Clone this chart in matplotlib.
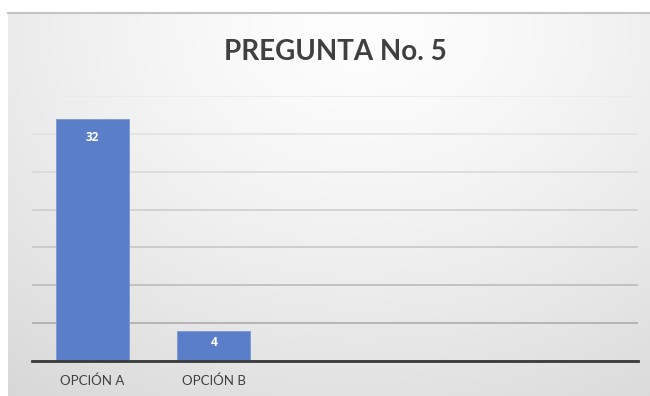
import numpy as np
import matplotlib
matplotlib.use("Agg")
import matplotlib.pyplot as plt

categories = ["OPCIÓN A", "OPCIÓN B", "", "", ""]
values = [32, 4, None, None, None]
title = "PREGUNTA No. 5"
yticks = [0, 5, 10, 15, 20, 25, 30, 35]

W, H = 650, 396
FONT = "Lato"
fig = plt.figure(figsize=(W / 100, H / 100), dpi=100)
fig.patch.set_facecolor("white")

# background panel with radial gradient
bg = fig.add_axes([8 / W, 0, (W - 8) / W, (H - 13) / H], zorder=0)
ny, nx = 200, 340
yy, xx = np.mgrid[0:ny, 0:nx]
cx, cy = nx * 0.55, ny * 0.02
r = np.sqrt(((xx - cx) / nx) ** 2 + ((yy - cy) / ny * 0.75) ** 2)
g = np.clip(0.995 - 0.17 * r ** 1.4, 0.84, 1.0)
img = np.dstack([g, g, g])
bg.imshow(img, aspect="auto", extent=[0, 1, 0, 1], origin="upper")
bg.set_axis_off()
# top border line
fig.add_artist(plt.Line2D([8 / W, 1], [(H - 12.5) / H] * 2, color="#c4c4c4", lw=1.5))

ax = fig.add_axes([32 / W, (H - 361) / H, 606 / W, (361 - 96) / H], zorder=1)
ax.patch.set_alpha(0)
x = np.arange(len(categories))
vals = [v if v is not None else 0 for v in values]
bars = ax.bar(x, vals, width=0.6, color="#5a7fc8", edgecolor="#7b98d4", linewidth=0.6, zorder=3)
ax.set_xlim(-0.5, len(categories) - 0.5)
ax.set_ylim(0, 35)
ax.set_yticks(yticks)
ax.set_yticklabels([])
ax.tick_params(axis="y", length=0)
ax.grid(axis="y", lw=1.1, zorder=0)
grid_shades = ["#a0a0a0", "#a8a8a8", "#b8b8b8", "#c4c4c4", "#cccccc", "#d8d8d8", "#e2e2e2", "#eaeaea"]
for gl, c in zip(ax.get_ygridlines(), grid_shades):
    gl.set_color(c)
for s in ["left", "right", "top"]:
    ax.spines[s].set_visible(False)
ax.spines["bottom"].set_color("#3a3a3a")
ax.spines["bottom"].set_linewidth(2)
ax.spines["bottom"].set_zorder(4)
ax.set_xticks(x)
ax.set_xticklabels(categories, fontsize=9.5, color="#404040", family=FONT)
ax.tick_params(axis="x", length=0, pad=10)

offsets = [-19, -12]
for i, v in enumerate(values):
    if v is None:
        continue
    ax.annotate(str(v), (x[i], v), xytext=(0, offsets[i] * 0.72), textcoords="offset points",
                ha="center", va="center", color="white", fontsize=8.5, fontweight="bold",
                family="Open Sans", zorder=5)

fig.text(335 / W, 1 - 52 / H, title, ha="center", va="center", fontsize=20,
         fontweight="bold", color="#404040", family=FONT)

fig.savefig("out.png", dpi=100)
